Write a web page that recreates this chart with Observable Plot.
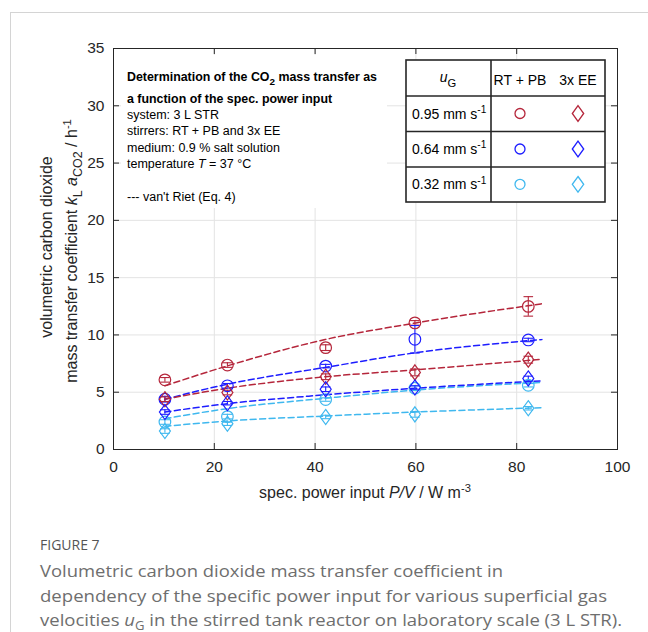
<!DOCTYPE html>
<html><head><meta charset="utf-8">
<script src="https://cdn.jsdelivr.net/npm/d3@7"></script>
<script src="https://cdn.jsdelivr.net/npm/@observablehq/plot@0.6"></script>
<style>
body{margin:0;background:#fff;width:648px;height:632px;overflow:hidden;position:relative;}
#border{position:absolute;left:10px;top:12px;width:700px;height:700px;border-left:1px solid #d4d4d4;border-top:1px solid #d4d4d4;z-index:5;pointer-events:none;}
#chart{position:absolute;left:0;top:0;}
#caption{position:absolute;left:0;top:510px;}
</style></head><body>
<div id="chart"></div>
<svg id="caption" width="648" height="122"></svg>
<div id="border"></div>
<script>
// ---- data ----
const xTicks = [0, 20, 40, 60, 80, 100];
const yTicks = [0, 5, 10, 15, 20, 25, 30, 35];
const ugLabels = ["0.95", "0.64", "0.32"];
const stirrers = ["RT + PB", "3x EE"];
const colors = ["#b5263b", "#1d1dff", "#3fb8ef"];

const power = [10.2, 22.6, 42.1, 59.8, 82.3];
const kla_095_RTPB = [6.08, 7.37, 8.89, 11.05, 12.49];
const err_095_RTPB = [0.2, 0.2, 0.25, 0.2, 0.85];
const kla_064_RTPB = [4.39, 5.56, 7.28, 9.62, 9.56];
const err_064_RTPB = [0.25, 0.2, 0.15, 1.2, 0.15];
const kla_032_RTPB = [2.4, 2.87, 4.36, 5.35, 5.61];
const err_032_RTPB = [0.2, 0.2, 0.15, 0.2, 0.15];
const kla_095_EE = [4.39, 4.97, 6.35, 6.73, 7.84];
const err_095_EE = [0.2, 0.2, 0.25, 0.3, 0.3];
const kla_064_EE = [3.27, 4.04, 5.26, 5.41, 6.2];
const err_064_EE = [0.2, 0.15, 0.2, 0.15, 0.2];
const kla_032_EE = [1.61, 2.25, 2.84, 3.07, 3.6];
const err_032_EE = [0.2, 0.15, 0.15, 0.25, 0.15];

// van't Riet curves
const fitPower = [10.2, 22.6, 42, 60, 85];
const fit_095_RTPB = [5.56, 7.3, 9.6, 11.05, 12.72];
const fit_064_RTPB = [4.39, 5.7, 7.16, 8.45, 9.6];
const fit_032_RTPB = [2.69, 3.57, 4.47, 5.2, 5.85];
const fit_095_EE = [4.39, 5.35, 6.35, 6.96, 7.87];
const fit_064_EE = [3.27, 4.0, 4.77, 5.35, 5.99];
const fit_032_EE = [2.02, 2.49, 2.92, 3.27, 3.65];

// text
const noteTitle1 = ["Determination of the CO", "2", " mass transfer as"];
const noteTitle2 = "a function of the spec. power input";
const noteLines = ["system: 3 L STR", "stirrers: RT + PB and 3x EE", "medium: 0.9 % salt solution"];
const noteTemp = ["temperature ", "T", " = 37 °C"];
const noteFit = "--- van't Riet (Eq. 4)";
const figLabel = "FIGURE 7";
const captionLines = [
  "Volumetric carbon dioxide mass transfer coefficient in",
  "dependency of the specific power input for various superficial gas"
];
const captionLast = ["velocities ", "u", "G", " in the stirred tank reactor on laboratory scale (3 L STR)."];

// ---- tables ----
const seriesDefs = [
  ["0.95", "RT + PB", kla_095_RTPB, err_095_RTPB, fit_095_RTPB],
  ["0.64", "RT + PB", kla_064_RTPB, err_064_RTPB, fit_064_RTPB],
  ["0.32", "RT + PB", kla_032_RTPB, err_032_RTPB, fit_032_RTPB],
  ["0.95", "3x EE", kla_095_EE, err_095_EE, fit_095_EE],
  ["0.64", "3x EE", kla_064_EE, err_064_EE, fit_064_EE],
  ["0.32", "3x EE", kla_032_EE, err_032_EE, fit_032_EE]
];
const points = [], fits = [];
for (const [ug, st, vals, errs, fit] of seriesDefs) {
  vals.forEach((v, i) => points.push({P: power[i], kla: v, err: errs[i], ug, st}));
  fit.forEach((v, i) => fits.push({P: fitPower[i], kla: v, ug, key: ug + st}));
}

// ---- symbols ----
const circleSym = d3.symbolCircle;
const diamondSym = {draw(ctx, size) {
  const r = Math.sqrt(size / Math.PI);
  const h = r * 1.3, w = r * 0.95;
  ctx.moveTo(0, -h); ctx.lineTo(w, 0); ctx.lineTo(0, h); ctx.lineTo(-w, 0); ctx.closePath();
}};
const capSym = {draw(ctx, size) {
  const r = Math.sqrt(size / Math.PI);
  ctx.moveTo(-r, 0); ctx.lineTo(r, 0);
}};

const W = 648, H = 510, mL = 113, mR = 31, mT = 48, mB = 61;
const plotW = W - mL - mR, plotH = H - mT - mB;
const tickLen = 6;
const axisCol = "#262626";
const FONT = "'Liberation Sans', Arial, Helvetica, sans-serif";

const chart = Plot.plot({
  width: W, height: H,
  marginLeft: mL, marginRight: mR, marginTop: mT, marginBottom: mB,
  x: {domain: [0, 100]},
  y: {domain: [0, 35]},
  color: {domain: ugLabels, range: colors},
  symbol: {domain: stirrers, range: [circleSym, diamondSym]},
  style: {fontFamily: FONT, background: "transparent", color: axisCol, overflow: "visible"},
  marks: [
    Plot.gridX(xTicks, {stroke: "#e3e3e3", strokeOpacity: 1}),
    Plot.gridY(yTicks, {stroke: "#e3e3e3", strokeOpacity: 1}),
    Plot.axisX(xTicks, {tickSize: 0, tickPadding: 11, fontSize: 15.5, label: null, fill: axisCol}),
    Plot.axisY(yTicks, {tickSize: 0, tickPadding: 9, fontSize: 15.5, label: null, fill: axisCol}),
    Plot.ruleX(xTicks, {insetTop: plotH - tickLen, stroke: axisCol}),
    Plot.ruleX(xTicks, {insetBottom: plotH - tickLen, stroke: axisCol}),
    Plot.ruleY(yTicks, {insetRight: plotW - tickLen, stroke: axisCol}),
    Plot.ruleY(yTicks, {insetLeft: plotW - tickLen, stroke: axisCol}),
    Plot.frame({stroke: axisCol, strokeWidth: 1}),
    Plot.line(fits, {x: "P", y: "kla", z: "key", stroke: "ug", strokeWidth: 1.5, strokeDasharray: "6,3.5", curve: "monotone-x"}),
    Plot.ruleX(points, {x: "P", y1: d => d.kla - d.err, y2: d => d.kla + d.err, stroke: "ug", strokeWidth: 1.1}),
    Plot.dot(points, {x: "P", y: d => d.kla - d.err, symbol: capSym, stroke: "ug", r: 4.8, strokeWidth: 1.1}),
    Plot.dot(points, {x: "P", y: d => d.kla + d.err, symbol: capSym, stroke: "ug", r: 4.8, strokeWidth: 1.1}),
    Plot.dot(points, {x: "P", y: "kla", symbol: "st", stroke: "ug", fill: "none", r: 5.8, strokeWidth: 1.2})
  ]
});
document.getElementById("chart").appendChild(chart);

const svg = d3.select(chart);
const colorOf = chart.scale("color");

// helper: build text with tspans
function rich(parent, parts, attrs) {
  const t = parent.append("text").attr("text-anchor", "start");
  for (const k in attrs) t.attr(k, attrs[k]);
  const base = +attrs["font-size"];
  let shift = 0;
  for (const p of parts) {
    const s = t.append("tspan").text(p.t);
    let target = 0;
    if (p.sub) { target = base * 0.33; s.attr("font-size", base * (p.scale || 0.78)); }
    if (p.sup) { target = -base * 0.4; s.attr("font-size", base * (p.scale || 0.7)); }
    if (target !== shift) { s.attr("dy", target - shift); shift = target; }
    if (p.italic) s.attr("font-style", "italic");
    if (p.bold) s.attr("font-weight", "bold");
  }
  return t;
}

// axis titles
rich(svg, [{t: "spec. power input "}, {t: "P/V", italic: true}, {t: " / W m"}, {t: "-3", sup: true}],
  {x: 365, y: 498, "text-anchor": "middle", "font-size": 16, "font-family": FONT, fill: axisCol});
rich(svg, [{t: "volumetric carbon dioxide"}],
  {transform: "translate(52,247) rotate(-90)", "text-anchor": "middle", "font-size": 16, "font-family": FONT, fill: axisCol});
rich(svg, [{t: "mass transfer coefficient "}, {t: "k", italic: true}, {t: "L", sub: true}, {t: " "},
  {t: "a", italic: true}, {t: "CO2", sub: true}, {t: " / h"}, {t: "-1", sup: true}],
  {transform: "translate(77,251) rotate(-90)", "text-anchor": "middle", "font-size": 16, "font-family": FONT, fill: axisCol});

// annotation box
svg.append("rect").attr("x", 121).attr("y", 55).attr("width", 266).attr("height", 153).attr("fill", "white");
const nx = 127;
rich(svg, [{t: noteTitle1[0]}, {t: noteTitle1[1], sub: true, scale: 0.8}, {t: noteTitle1[2]}],
  {x: nx, y: 80.5, "font-size": 12.4, "font-weight": "bold", "font-family": FONT, fill: "#000"});
rich(svg, [{t: noteTitle2}], {x: nx, y: 102.5, "font-size": 12.4, "font-weight": "bold", "font-family": FONT, fill: "#000"});
noteLines.forEach((l, i) => rich(svg, [{t: l}], {x: nx, y: 118.5 + i * 16.5, "font-size": 12.5, "font-family": FONT, fill: "#000"}));
rich(svg, [{t: noteTemp[0]}, {t: noteTemp[1], italic: true}, {t: noteTemp[2]}],
  {x: nx, y: 168, "font-size": 12.5, "font-family": FONT, fill: "#000"});
rich(svg, [{t: noteFit}], {x: nx, y: 200.5, "font-size": 12.5, "font-family": FONT, fill: "#000"});

// legend table
const lg = svg.append("g").attr("font-family", FONT).attr("font-size", 14).attr("fill", "#000");
const L = {x0: 406, x1: 605, y0: 60, y1: 202, xd: 491, rows: [96, 131.5, 167]};
lg.append("rect").attr("x", L.x0).attr("y", L.y0).attr("width", L.x1 - L.x0).attr("height", L.y1 - L.y0)
  .attr("fill", "white").attr("stroke", axisCol).attr("stroke-width", 1.6);
lg.append("line").attr("x1", L.xd).attr("x2", L.xd).attr("y1", L.y0).attr("y2", L.y1).attr("stroke", axisCol).attr("stroke-width", 1.6);
L.rows.forEach(y => lg.append("line").attr("x1", L.x0).attr("x2", L.x1).attr("y1", y).attr("y2", y).attr("stroke", axisCol).attr("stroke-width", 1.4));
rich(lg, [{t: "u", italic: true}, {t: "G", sub: true, scale: 0.8}], {x: 448, y: 82, "text-anchor": "middle", "font-size": 14});
const colX = [520, 578];
stirrers.forEach((s, j) => rich(lg, [{t: s}], {x: colX[j], y: 85, "text-anchor": "middle", "font-size": 14}));
const rowY = [113.5, 149, 184.3];
ugLabels.forEach((u, i) => {
  rich(lg, [{t: u + " mm s"}, {t: "-1", sup: true, scale: 0.72}], {x: 412, y: rowY[i] + 5, "font-size": 14});
  [circleSym, diamondSym].forEach((sym, j) => {
    lg.append("path").attr("transform", `translate(${colX[j]},${rowY[i]})`)
      .attr("d", d3.symbol(sym, Math.PI * (j ? 6 : 5) ** 2)())
      .attr("fill", "none").attr("stroke", colorOf.apply(u)).attr("stroke-width", 1.3);
  });
});

// caption
const cap = d3.select("#caption");
const CF = "'Open Sans', 'Noto Sans', sans-serif";
cap.append("text").attr("x", 40).attr("y", 40).attr("font-family", CF).attr("font-size", 14)
  .attr("fill", "#555").text(figLabel);
const capLens = [463, 567, 582];
const capStyle = t => t.attr("font-family", CF).attr("font-size", 17).attr("font-weight", 400).attr("fill", "#6e6e6e");
captionLines.forEach((l, i) => capStyle(cap.append("text")).attr("x", 40).attr("y", 67 + i * 24.5)
  .attr("textLength", capLens[i]).attr("lengthAdjust", "spacingAndGlyphs").text(l));
const last = capStyle(cap.append("text")).attr("x", 40).attr("y", 115.5)
  .attr("textLength", capLens[2]).attr("lengthAdjust", "spacingAndGlyphs");
last.append("tspan").text(captionLast[0]);
last.append("tspan").attr("font-style", "italic").text(captionLast[1]);
last.append("tspan").attr("font-size", 12).attr("dy", 4).text(captionLast[2]);
last.append("tspan").attr("dy", -4).text(captionLast[3]);
</script>
</body></html>
